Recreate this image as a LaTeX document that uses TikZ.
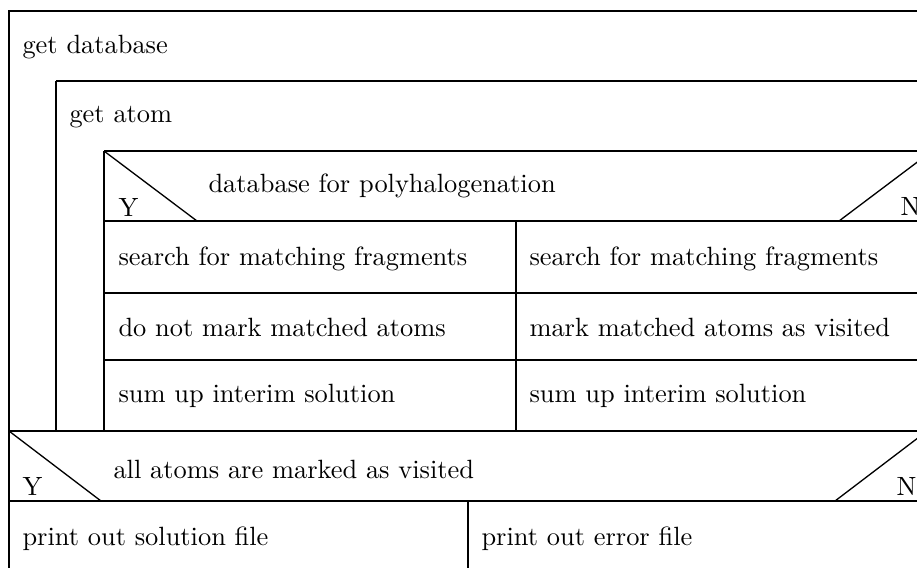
\documentclass[tikz,border=0pt]{standalone}
\usepackage{fontspec}
\tikzset{
  frame/.style={line width=0.75pt},
  diag/.style={line width=0.5pt},
  lbl/.style={anchor=base west, inner sep=0pt, font=\fontsize{10}{12}\selectfont}
}
\begin{document}
\begin{tikzpicture}[x=0.3788pt, y=-0.3788pt]
  \useasboundingbox (0,0) rectangle (917,567);
  \clip (0,0) rectangle (917,567);
  \fill[white] (0,0) rectangle (917,567);

  % outer loop: get database
  \draw[frame] (9,11) rectangle (927,575);
  \node[lbl] (getdb) at (22,53) {get database};

  % inner loop: get atom
  \draw[frame] (56,81) -- (930,81);
  \draw[frame] (56,81) -- (56,431);
  \node[lbl] (getatom) at (69,122) {get atom};

  % decision: database for polyhalogenation
  \draw[frame] (104,151) -- (932,151);
  \draw[frame] (104,151) -- (104,431);
  \draw[frame] (104,221) -- (932,221);
  \draw[diag] (104,151) -- (197,221);
  \draw[diag] (839,221) -- (932,151);
  \node[lbl] (cond1) at (208,192) {database for polyhalogenation};
  \node[lbl] (y1) at (118,216) {Y};
  \node[lbl] (n1) at (900,215) {N};

  % two branches
  \draw[frame] (516,221) -- (516,431);
  \draw[frame] (104,293) -- (932,293);
  \draw[frame] (104,360) -- (932,360);
  \node[lbl] (ya) at (118,265) {search for matching fragments};
  \node[lbl] (yb) at (118,336) {do not mark matched atoms};
  \node[lbl] (yc) at (118,402) {sum up interim solution};
  \node[lbl] (na) at (529,265) {search for matching fragments};
  \node[lbl] (nb) at (529,336) {mark matched atoms as visited};
  \node[lbl] (nc) at (529,402) {sum up interim solution};

  % decision: all atoms are marked as visited
  \draw[frame] (9,431) -- (932,431);
  \draw[frame] (9,501) -- (927,501);
  \draw[diag] (9,431) -- (101,501);
  \draw[diag] (835,501) -- (927,431);
  \node[lbl] (cond2) at (113,478) {all atoms are marked as visited};
  \node[lbl] (y2) at (22,495) {Y};
  \node[lbl] (n2) at (896,495) {N};

  % final branches
  \draw[frame] (468,501) -- (468,575);
  \node[lbl] (sol) at (22,545) {print out solution file};
  \node[lbl] (err) at (481,545) {print out error file};
\end{tikzpicture}
\end{document}
